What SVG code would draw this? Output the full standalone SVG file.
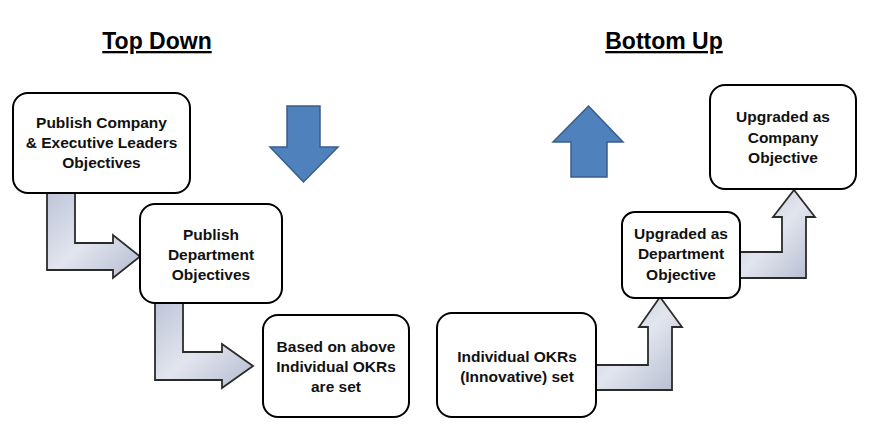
<svg xmlns="http://www.w3.org/2000/svg" width="870" height="445" viewBox="0 0 870 445">
<defs>
<linearGradient id="gv" x1="0" y1="0" x2="1" y2="1">
<stop offset="0" stop-color="#bdc4d7"/>
<stop offset="0.5" stop-color="#e2e5ee"/>
<stop offset="1" stop-color="#b3bbcf"/>
</linearGradient>
<style>
.title{font-family:"Liberation Sans",Arial,sans-serif;font-weight:bold;font-size:23px;fill:#000;text-decoration:underline;text-anchor:middle}
.box{fill:#fff;stroke:#000;stroke-width:2}
.lbl{font-family:"Liberation Sans",Arial,sans-serif;font-weight:bold;font-size:15.5px;fill:#111;text-anchor:middle}
.conn{fill:url(#gv);stroke:#2b2b2b;stroke-width:1.8;stroke-linejoin:miter}
.blue{fill:#4f81bd;stroke:#385d8a;stroke-width:1.5}
</style>
</defs>
<rect width="870" height="445" fill="#fff"/>
<text class="title" x="157" y="49">Top Down</text>
<text class="title" x="664" y="49">Bottom Up</text>
<polygon class="blue" points="287,106 320,106 320,147 338,147 303.5,182 270,147 287,147"/>
<polygon class="blue" points="588.5,106 623,142 607,142 607,177 571,177 571,142 553,142"/>
<g id="connectors">
<polygon class="conn" points="47,190 75,190 75,243 113,243 113,235 140,256.5 113,278 113,270 47,270"/>
<polygon class="conn" points="155,300 183,300 183,352 222,352 222,344 253,366 222,388 222,380 155,380"/>
<polygon class="conn" points="593,365 648,365 648,327 639,327 660,297 682,327 672,327 672,390 593,390"/>
<polygon class="conn" points="737,252 782,252 782,217 773,217 794,190 815,217 806,217 806,278 737,278"/>
</g>
<g id="n1">
<rect class="box" x="13" y="93" width="177" height="100" rx="15"/>
<text class="lbl" x="101.5" y="128">Publish Company</text>
<text class="lbl" x="101.5" y="148">&amp; Executive Leaders</text>
<text class="lbl" x="101.5" y="168">Objectives</text>
</g>
<g id="n2">
<rect class="box" x="140" y="204" width="142" height="99" rx="15"/>
<text class="lbl" x="211" y="240">Publish</text>
<text class="lbl" x="211" y="260">Department</text>
<text class="lbl" x="211" y="280">Objectives</text>
</g>
<g id="n3">
<rect class="box" x="263" y="315" width="146" height="102" rx="15"/>
<text class="lbl" x="336" y="352">Based on above</text>
<text class="lbl" x="336" y="372">Individual OKRs</text>
<text class="lbl" x="336" y="392">are set</text>
</g>
<g id="n4">
<rect class="box" x="437" y="313" width="159" height="104" rx="15"/>
<text class="lbl" x="517" y="362">Individual OKRs</text>
<text class="lbl" x="517" y="382">(Innovative) set</text>
</g>
<g id="n5">
<rect class="box" x="622" y="212" width="118" height="86" rx="13"/>
<text class="lbl" x="681" y="239">Upgraded as</text>
<text class="lbl" x="681" y="259">Department</text>
<text class="lbl" x="681" y="280">Objective</text>
</g>
<g id="n6">
<rect class="box" x="710" y="85" width="146" height="104" rx="15"/>
<text class="lbl" x="783" y="122">Upgraded as</text>
<text class="lbl" x="783" y="143">Company</text>
<text class="lbl" x="783" y="163">Objective</text>
</g>
</svg>
